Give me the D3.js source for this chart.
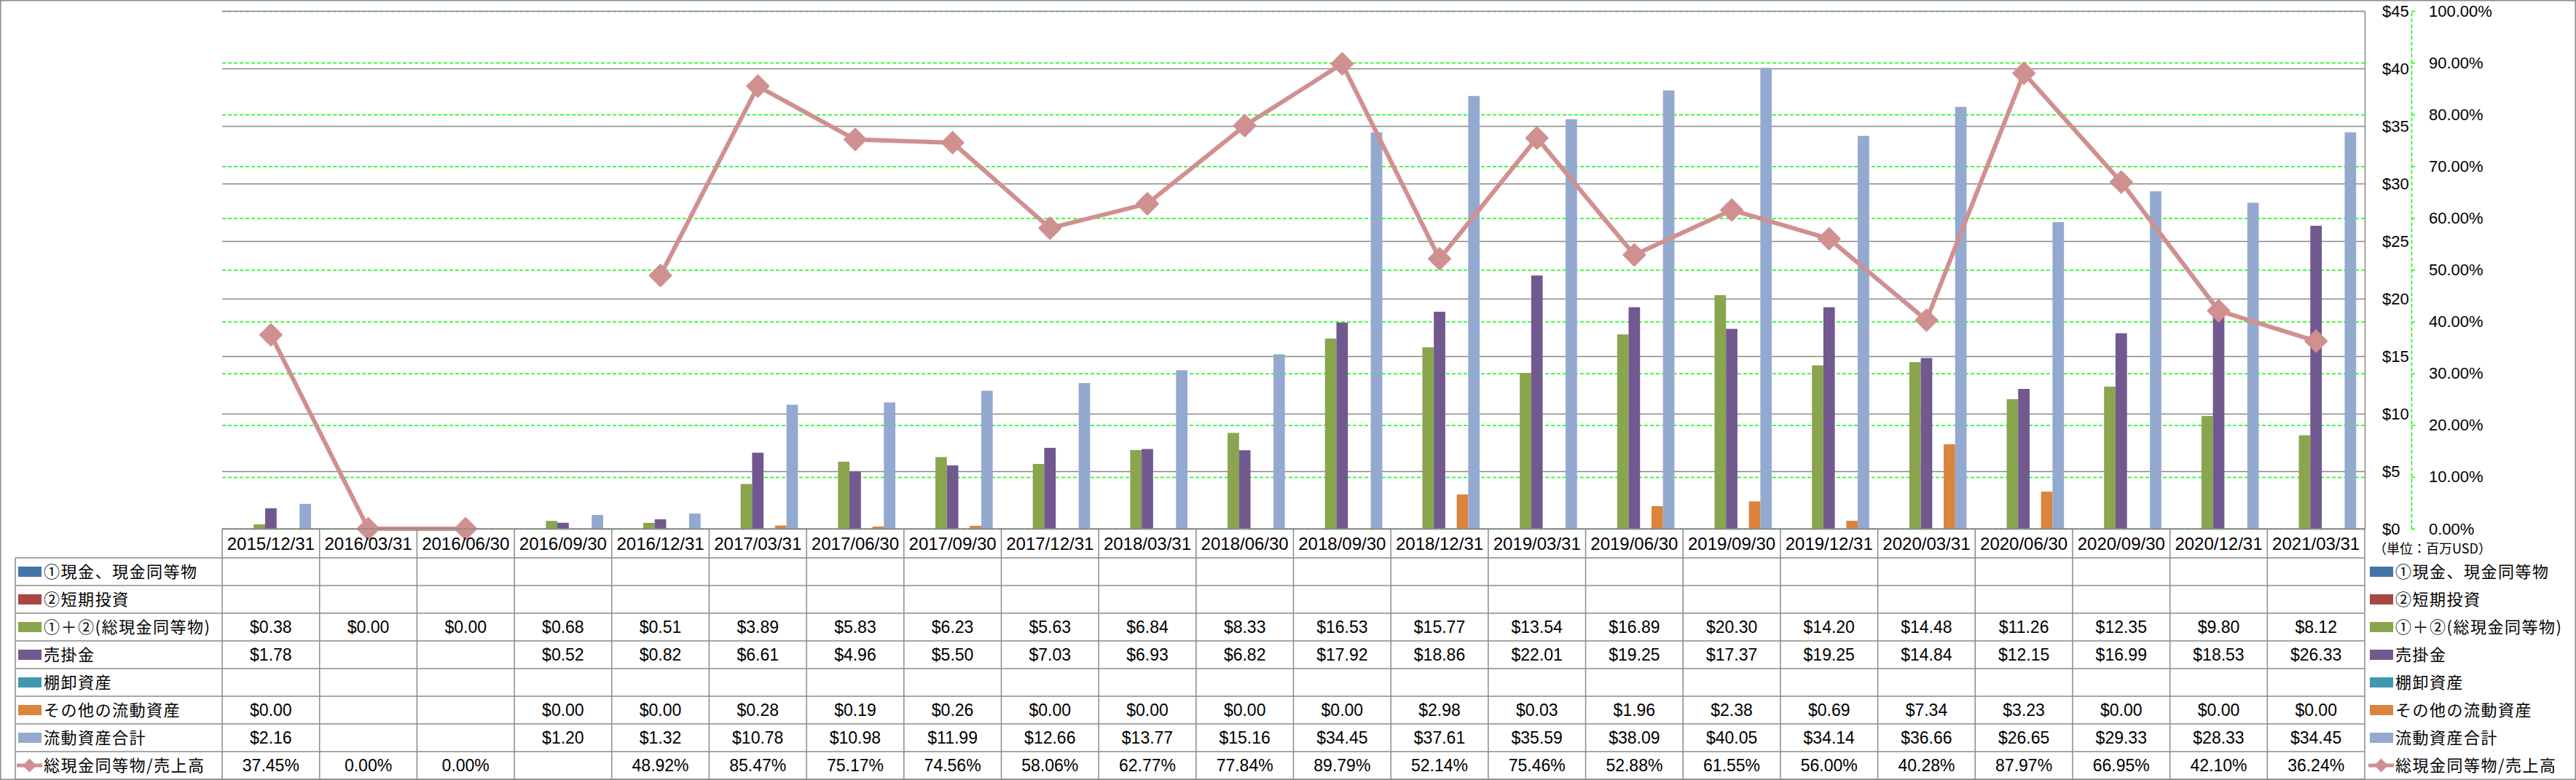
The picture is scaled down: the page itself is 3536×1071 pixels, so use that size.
<!DOCTYPE html>
<html><head><meta charset="utf-8">
<script src="https://cdn.jsdelivr.net/npm/d3@7"></script>
<style>body{margin:0;background:#fff} svg{display:block}</style>
</head><body><svg id="c" width="3536" height="1071"></svg>
<script>
// ---------- data ----------
const dates = ["2015/12/31","2016/03/31","2016/06/30","2016/09/30","2016/12/31","2017/03/31","2017/06/30","2017/09/30","2017/12/31","2018/03/31","2018/06/30","2018/09/30","2018/12/31","2019/03/31","2019/06/30","2019/09/30","2019/12/31","2020/03/31","2020/06/30","2020/09/30","2020/12/31","2021/03/31"];
const seriesNames = ["①現金、現金同等物","②短期投資","①＋②(総現金同等物)","売掛金","棚卸資産","その他の流動資産","流動資産合計"];
const seriesColors = ["#4572A7","#AA4643","#89A54E","#71588F","#4198AF","#DB843D","#93A9CF"];
const N = null;
const cashEq       = [N,N,N,N,N,N,N,N,N,N,N,N,N,N,N,N,N,N,N,N,N,N];
const shortInv     = [N,N,N,N,N,N,N,N,N,N,N,N,N,N,N,N,N,N,N,N,N,N];
const totalCash    = [0.38,0.00,0.00,0.68,0.51,3.89,5.83,6.23,5.63,6.84,8.33,16.53,15.77,13.54,16.89,20.30,14.20,14.48,11.26,12.35,9.80,8.12];
const receivables  = [1.78,N,N,0.52,0.82,6.61,4.96,5.50,7.03,6.93,6.82,17.92,18.86,22.01,19.25,17.37,19.25,14.84,12.15,16.99,18.53,26.33];
const inventory    = [N,N,N,N,N,N,N,N,N,N,N,N,N,N,N,N,N,N,N,N,N,N];
const otherCurrent = [0.00,N,N,0.00,0.00,0.28,0.19,0.26,0.00,0.00,0.00,0.00,2.98,0.03,1.96,2.38,0.69,7.34,3.23,0.00,0.00,0.00];
const totalCurrent = [2.16,N,N,1.20,1.32,10.78,10.98,11.99,12.66,13.77,15.16,34.45,37.61,35.59,38.09,40.05,34.14,36.66,26.65,29.33,28.33,34.45];
const ratioName = "総現金同等物/売上高";
const ratioPct  = [37.45,0.00,0.00,N,48.92,85.47,75.17,74.56,58.06,62.77,77.84,89.79,52.14,75.46,52.88,61.55,56.00,40.28,87.97,66.95,42.10,36.24];
const lineColor = "#D09090";
const yTicks  = [0,5,10,15,20,25,30,35,40,45];
const y2Ticks = [0,10,20,30,40,50,60,70,80,90,100];
const unitLabel = "（単位：百万USD）";

const seriesValues = [cashEq, shortInv, totalCash, receivables, inventory, otherCurrent, totalCurrent];

// ---------- layout ----------
const W = 3536, H = 1071;
const plotL = 305, plotR = 3246, plotT = 15, plotB = 726;
const headH = 40, rowH = 38, tabL = 21;
const tabTop = plotB + headH;
const numFont = "'Liberation Sans', Arial, sans-serif";
const jpFont = "'Noto Sans CJK JP', sans-serif";

const svg = d3.select("#c");
svg.append("rect").attr("x",0.75).attr("y",0.75).attr("width",W-1.5).attr("height",H-1.5)
  .attr("fill","#fff").attr("stroke","#8a8a8a").attr("stroke-width",1.5);

const x = d3.scaleBand().domain(dates).range([plotL, plotR]).paddingInner(0).paddingOuter(0);
const xs = d3.scaleBand().domain(seriesNames).range([0, x.bandwidth()]).paddingInner(0).paddingOuter(0.75);
const y = d3.scaleLinear().domain([0,45]).range([plotB, plotT]);
const y2 = d3.scaleLinear().domain([0,100]).range([plotB, plotT]);

// green dashed gridlines (secondary)
const g2grid = svg.append("g").attr("transform",`translate(${plotL},0)`)
  .call(d3.axisLeft(y2).tickValues(y2Ticks).tickSize(-(plotR-plotL)).tickFormat(""));
g2grid.select(".domain").remove();
g2grid.selectAll("line").attr("stroke","#00ff00").attr("stroke-width",1.5).attr("stroke-dasharray","5,3");

// grey gridlines (primary)
const g1grid = svg.append("g").attr("transform",`translate(${plotL},0)`)
  .call(d3.axisLeft(y).tickValues(yTicks).tickSize(-(plotR-plotL)).tickFormat(""));
g1grid.select(".domain").remove();
g1grid.selectAll("line").attr("stroke","#878787").attr("stroke-width",1.5);

// bars
seriesNames.forEach((name, si) => {
  const vals = seriesValues[si];
  svg.append("g").selectAll("rect")
    .data(dates.map((d,i)=>({d, v: vals[i]})).filter(o=>o.v!=null && o.v>0))
    .join("rect")
    .attr("x", o => x(o.d) + xs(name))
    .attr("width", xs.bandwidth())
    .attr("y", o => y(o.v))
    .attr("height", o => plotB - y(o.v))
    .attr("fill", seriesColors[si]);
});

// primary axis (labels on right)
const ax1 = svg.append("g").attr("transform",`translate(${plotR},0)`)
  .call(d3.axisRight(y).tickValues(yTicks).tickSize(0).tickSizeOuter(0).tickPadding(24).tickFormat(d=>"$"+d));
ax1.select(".domain").attr("stroke","#878787").attr("stroke-width",1.5);
ax1.selectAll("text").attr("font-family",numFont).attr("font-size",22).attr("fill","#000");

// secondary axis
const ax2 = svg.append("g").attr("transform",`translate(3310,0)`)
  .call(d3.axisRight(y2).tickValues(y2Ticks).tickSize(8).tickSizeOuter(0).tickPadding(16).tickFormat(d=>d.toFixed(2)+"%"));
ax2.select(".domain").attr("stroke","#00ff00").attr("stroke-width",1.5).attr("stroke-dasharray","5,3");
ax2.selectAll(".tick line").attr("stroke","#00ff00").attr("stroke-width",1.5).attr("stroke-dasharray","5,3");
ax2.selectAll("text").attr("font-family",numFont).attr("font-size",22).attr("fill","#000");

// ratio line
const line = d3.line().defined(d=>d.v!=null)
  .x(d => x(d.d) + x.bandwidth()/2).y(d => y2(d.v));
const lineData = dates.map((d,i)=>({d, v: ratioPct[i]}));
svg.append("path").datum(lineData).attr("d", line)
  .attr("fill","none").attr("stroke",lineColor).attr("stroke-width",6).attr("stroke-linejoin","round");
const diamond = d3.symbol().type(d3.symbolSquare).size(450);
svg.append("g").selectAll("path").data(lineData.filter(o=>o.v!=null)).join("path")
  .attr("d", diamond)
  .attr("transform", o => `translate(${x(o.d)+x.bandwidth()/2},${y2(o.v)}) rotate(45)`)
  .attr("fill", lineColor).attr("stroke", lineColor).attr("stroke-width",2).attr("stroke-linejoin","round");

// ---------- data table ----------
const tbl = svg.append("g");
const gridStroke = "#8a8a8a";
const bounds = dates.map(d=>x(d)).concat([plotR]);
bounds.forEach(bx => {
  tbl.append("line").attr("x1",bx).attr("x2",bx).attr("y1",plotB).attr("y2",H-1)
    .attr("stroke",gridStroke).attr("stroke-width",1.5);
});
tbl.append("line").attr("x1",tabL).attr("x2",tabL).attr("y1",tabTop).attr("y2",H-1)
  .attr("stroke",gridStroke).attr("stroke-width",1.5);
tbl.append("line").attr("x1",plotL).attr("x2",plotR).attr("y1",plotB).attr("y2",plotB)
  .attr("stroke",gridStroke).attr("stroke-width",1.5);
for (let r=0; r<=8; r++) {
  const yy = tabTop + r*rowH;
  tbl.append("line").attr("x1",tabL).attr("x2",plotR).attr("y1",yy).attr("y2",yy)
    .attr("stroke",gridStroke).attr("stroke-width",1.5);
}
tbl.append("g").selectAll("text").data(dates).join("text")
  .attr("x", d => x(d)+x.bandwidth()/2).attr("y", plotB + headH/2).attr("dy","0.36em")
  .attr("text-anchor","middle").attr("font-family",numFont).attr("font-size",24).text(d=>d);

const rowNames = seriesNames.concat([ratioName]);
const rowVals = seriesValues.concat([ratioPct]);
rowNames.forEach((name, r) => {
  const cy = tabTop + r*rowH + rowH/2;
  const vals = rowVals[r];
  tbl.append("g").selectAll("text").data(dates.map((d,i)=>({d, v: vals[i]})).filter(o=>o.v!=null)).join("text")
    .attr("x", o => x(o.d)+x.bandwidth()/2).attr("y", cy).attr("dy","0.36em")
    .attr("text-anchor","middle").attr("font-family",numFont).attr("font-size",23)
    .text(o => r===7 ? o.v.toFixed(2)+"%" : "$"+o.v.toFixed(2));
});

function legendItem(g, r, sx, tx) {
  const cy = tabTop + r*rowH + rowH/2;
  if (r < 7) {
    g.append("rect").attr("x",sx).attr("y",cy-7).attr("width",32).attr("height",14).attr("fill",seriesColors[r]);
  } else {
    g.append("line").attr("x1",sx-2).attr("x2",sx+33).attr("y1",cy).attr("y2",cy)
      .attr("stroke",lineColor).attr("stroke-width",5);
    g.append("path").attr("d", d3.symbol().type(d3.symbolSquare).size(180))
      .attr("transform",`translate(${sx+15.5},${cy}) rotate(45)`).attr("fill",lineColor);
  }
  g.append("text").attr("x",tx).attr("y",cy).attr("dy","0.36em")
    .attr("font-family",jpFont).attr("font-size",22).attr("letter-spacing",1.5)
    .attr("fill","#000").text(rowNames[r]);
}
const lg = svg.append("g");
rowNames.forEach((n,r) => { legendItem(lg, r, 25, 60); legendItem(lg, r, 3253, 3288); });

svg.append("text").attr("x",3258).attr("y",754).attr("dy","0.36em")
  .attr("font-family",jpFont).attr("font-size",18).attr("fill","#000").text(unitLabel);
</script></body></html>
